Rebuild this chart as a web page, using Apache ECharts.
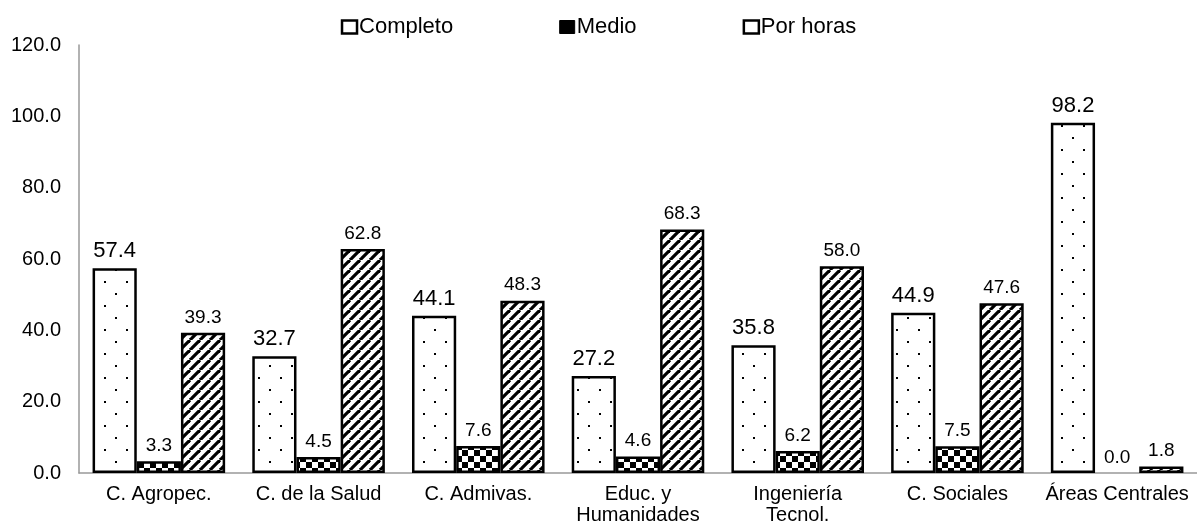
<!DOCTYPE html>
<html><head><meta charset="utf-8">
<script src="https://cdn.jsdelivr.net/npm/echarts@6/dist/echarts.min.js"></script>
<style>html,body{margin:0;padding:0;background:#fff}#c{width:1197px;height:522px}</style>
</head><body><div id="c"></div>
<script>
const categories = ['C. Agropec.', 'C. de la Salud', 'C. Admivas.', 'Educ. y\nHumanidades', 'Ingeniería\nTecnol.', 'C. Sociales', 'Áreas Centrales'];
const completo = [57.4, 32.7, 44.1, 27.2, 35.8, 44.9, 98.2];
const medio = [3.3, 4.5, 7.6, 4.6, 6.2, 7.5, 0.0];
const porHoras = [39.3, 62.8, 48.3, 68.3, 58.0, 47.6, 1.8];
const yTicks = [0, 20, 40, 60, 80, 100, 120];

function mk(w, h, draw) {
  const c = document.createElement('canvas'); c.width = w; c.height = h;
  const g = c.getContext('2d'); g.fillStyle = '#fff'; g.fillRect(0, 0, w, h);
  g.fillStyle = '#000'; g.strokeStyle = '#000'; draw(g); return c;
}
const dots = mk(22, 24, g => { g.fillRect(5, 5, 2, 2); g.fillRect(16, 17, 2, 2); });
const checker = mk(12, 12, g => { g.fillRect(0, 0, 6, 6); g.fillRect(6, 6, 6, 6); });
const stripes = mk(10, 10, g => {
  g.lineWidth = 3.2;
  for (let k = -10; k <= 20; k += 10) { g.beginPath(); g.moveTo(k, 10); g.lineTo(k + 10, 0); g.stroke(); }
});

const chart = echarts.init(document.getElementById('c'));
const font = 'Liberation Sans, Arial, sans-serif';
function ser(name, data, img, fs) {
  return {
    name, type: 'bar',
    data: data.map(v => v === 0 ? { value: v, itemStyle: { borderWidth: 0 } } : v),
    barGap: '0%', barCategoryGap: '17%',
    itemStyle: { color: { image: img, repetition: 'repeat' }, borderColor: '#000', borderWidth: 2.5 },
    label: { show: true, position: 'top', distance: 6, color: '#000', fontSize: fs, fontFamily: font, formatter: p => p.value.toFixed(1) }
  };
}
chart.setOption({
  animation: false,
  textStyle: { fontFamily: font },
  legend: {
    top: 11, left: 'center', itemGap: 106, itemWidth: 15, itemHeight: 13,
    textStyle: { fontSize: 22, color: '#000', fontFamily: font, padding: [0, 0, 0, -3] },
    data: [
      { name: 'Completo', icon: 'rect', itemStyle: { color: '#fff', borderColor: '#000', borderWidth: 2.5 } },
      { name: 'Medio', icon: 'rect', itemStyle: { color: '#000', borderColor: '#000', borderWidth: 1 } },
      { name: 'Por horas', icon: 'rect', itemStyle: { color: '#fff', borderColor: '#000', borderWidth: 2.5 } }
    ]
  },
  grid: { left: 79, right: 0, top: 45, bottom: 49, outerBoundsMode: 'none', containLabel: false },
  xAxis: {
    type: 'category', data: categories,
    axisLine: { lineStyle: { color: '#999', width: 1.5 } }, axisTick: { show: false },
    axisLabel: { color: '#000', fontSize: 20, fontFamily: font, margin: 11, lineHeight: 21, interval: 0, hideOverlap: false },
  },
  yAxis: {
    type: 'value', min: yTicks[0], max: yTicks[yTicks.length - 1], interval: 20,
    axisLine: { show: true, lineStyle: { color: '#999', width: 1.5 } }, axisTick: { show: false },
    splitLine: { show: false },
    axisLabel: { color: '#000', fontSize: 20, fontFamily: font, margin: 18, formatter: v => v.toFixed(1) }
  },
  series: [ser('Completo', completo, dots, 22), ser('Medio', medio, checker, 19), ser('Por horas', porHoras, stripes, 19)]
});
</script></body></html>
